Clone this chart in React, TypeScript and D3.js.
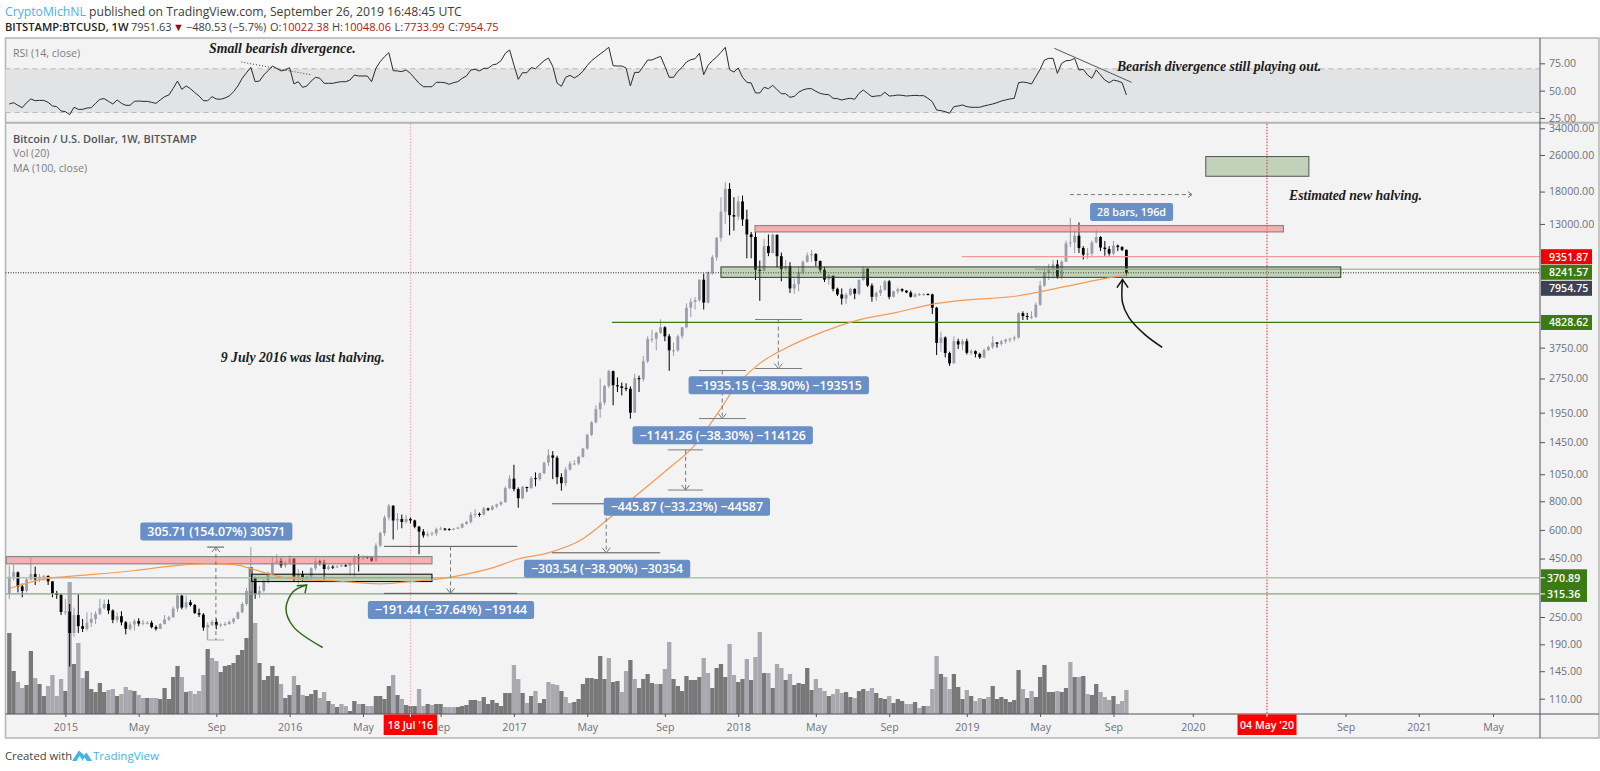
import React, { useRef, useEffect } from 'react';
import * as d3 from 'd3';

// weekly bars, first one is 6 Oct 2014
const firstOpen = 318;
const closes = [
  375,392,340,325,365,385,365,375,378,358,318,312,263,264,213,255,228,222,236,245,
  258,273,285,267,243,252,237,222,232,240,234,236,236,226,222,233,244,249,272,310,
  275,290,282,260,256,225,231,238,230,232,233,238,246,262,285,325,372,315,325,360,
  390,432,440,420,430,450,376,385,372,375,408,438,432,405,415,412,416,420,419,432,
  455,450,458,455,440,513,582,680,765,660,670,650,670,660,620,590,568,575,580,605,
  608,606,602,608,614,638,650,700,705,700,745,735,760,775,793,913,1005,905,825,925,
  915,1010,1000,1060,1180,1270,1240,1020,960,1100,1170,1170,1250,1360,1560,1770,2020,2160,2550,2960,
  2570,2540,2500,2480,1950,2760,2730,3270,4090,4100,4350,4600,4200,3650,3650,4200,4600,5600,5950,6050,
  7420,5900,8000,9300,11300,14700,18500,14200,14000,16300,13600,11700,11400,8200,8100,10400,9700,11650,9400,8250,
  8500,6800,7100,8000,8900,9480,9600,8960,8200,7430,7730,6770,6400,6140,6380,6770,6450,7400,8300,7000,
  6250,6500,6700,7300,6250,6600,6750,6650,6530,6250,6400,6420,6430,6400,5600,3930,4150,3550,3200,4000,
  3870,4000,3560,3620,3520,3400,3660,3780,3950,3900,3990,4060,4100,4150,5300,5150,5100,5110,5770,7000,
  7950,8250,8650,7650,8900,10700,10800,11550,10200,9550,9650,10800,11400,10250,10100,9650,10450,10300,10022.38,7954.75,
];
const highs = [
  419,425,395,350,370,455,415,385,382,380,358,325,316,300,285,275,314,245,262,262,
  265,300,298,298,270,262,265,240,238,245,247,243,240,241,230,235,255,253,278,317,
  312,310,297,285,272,260,237,242,246,235,238,241,248,265,290,335,505,375,342,365,
  395,460,470,452,440,465,450,405,398,378,412,450,445,445,422,420,420,424,425,435,
  465,470,465,462,460,525,590,695,780,770,710,700,695,680,665,625,605,590,590,615,
  620,612,610,612,620,642,658,720,740,715,755,750,770,782,800,930,1040,1155,920,935,
  925,1030,1070,1070,1190,1350,1325,1265,1060,1130,1200,1210,1265,1370,1580,1790,2100,2750,2580,3000,
  2980,2780,2640,2620,2540,2880,2830,3450,4200,4480,4400,4990,4650,4300,3950,4280,4620,5850,6150,6230,
  7450,7880,8050,9500,11400,17000,19840,19600,17000,17200,17300,15000,12000,12000,9000,11200,11700,11800,11700,9750,
  9050,8850,7500,8450,9000,9750,9990,9700,9000,8450,7850,7700,6850,6800,6500,6850,6800,7450,8500,8300,
  7150,6600,7000,7400,7400,6650,6850,6800,6680,6650,6500,6500,6480,6470,6450,5650,4400,4200,3600,4200,
  4100,4080,4100,3680,3650,3560,3720,3820,4210,3960,4050,4100,4150,4230,5350,5400,5320,5400,5900,7350,
  8350,8700,9050,9050,9000,11000,13800,12200,13200,10400,10200,11000,12300,11500,10950,10400,10950,10570,10400,10048.06,
];
const lows = [
  299,360,320,305,320,360,345,355,360,345,305,300,255,255,152,205,213,215,218,226,
  233,255,270,258,235,236,230,210,218,218,228,230,232,223,218,222,232,240,250,263,
  270,270,278,258,250,218,200,228,221,226,228,231,233,244,260,280,320,300,303,320,
  350,385,425,410,410,425,355,350,360,362,365,400,420,365,400,405,410,414,415,380,
  375,395,440,448,435,435,505,565,660,545,600,610,640,640,610,470,555,560,565,565,
  600,595,595,598,605,610,632,640,680,685,695,725,730,745,765,790,905,885,750,815,
  880,905,930,985,1050,1140,1000,950,890,930,1090,1150,1150,1240,1340,1540,1750,1850,2100,2500,
  2100,2400,2320,2420,1835,1950,2400,2670,3210,3950,3650,4300,4000,2970,3450,3600,4100,4550,5100,5500,
  5950,5500,5850,7800,9000,10900,13000,11600,12150,13500,12750,9200,9200,7400,6000,8100,9400,9650,8400,7300,
  8100,6500,6450,6600,7800,8800,8900,8500,8000,7250,7050,6600,6300,5780,5800,6300,6100,6350,7350,6900,
  5950,6000,6300,6650,6100,6200,6450,6550,6480,6200,6200,6300,6300,6330,5250,3480,3600,3400,3120,3200,
  3700,3650,3500,3480,3400,3350,3370,3620,3700,3750,3830,3900,3950,4000,4100,4950,4950,5000,5050,5700,
  6900,7400,7500,7500,7450,8850,10300,9700,9700,9100,9150,9400,10700,9900,9450,9450,9500,9900,9900,7733.99,
];
const volumes = [
  81,43,32,26,29,63,36,30,18,28,39,18,35,23,132,50,71,36,43,25,
  22,31,22,24,25,18,20,27,24,23,19,16,16,16,16,15,26,15,37,48,
  37,22,23,20,23,39,65,56,53,42,48,49,51,59,64,76,147,91,51,34,
  38,48,38,30,16,19,38,29,19,18,20,24,16,22,13,10,7,10,8,3,
  13,10,10,8,8,18,18,15,28,39,19,15,9,8,8,25,8,10,9,10,
  10,7,7,7,7,8,9,14,14,13,17,10,14,11,8,21,21,49,35,21,
  11,18,23,11,15,32,30,29,23,17,11,12,15,30,36,36,35,58,35,56,
  32,33,22,43,54,35,26,35,40,31,30,30,45,72,35,28,23,38,34,34,
  37,56,41,26,46,50,37,70,39,32,35,55,34,57,82,41,41,26,50,46,
  34,40,29,31,30,46,24,35,26,23,18,20,25,21,22,17,16,23,25,23,
  26,21,16,15,18,11,15,13,10,10,12,6,8,8,25,58,40,37,25,40,
  27,15,24,18,13,16,15,17,28,15,17,15,12,14,44,25,16,23,17,37,
  49,22,22,23,22,26,52,37,37,38,20,19,30,22,17,14,18,10,13,24,
];
// D = dark bar, L = light bar
const volumeTones = (
  'DDLLDDLDDL' + 'LLLDLDLLDD' + 'DDDLLDLLLD' + 'LLDLLDDDDD' + 'LDLLLLDLLD' + 'DDDDDDDLDD' +
  'DDDLDDLDLD' + 'DDLLDLDLLD' + 'DLDLLDDDDL' + 'DLDDDLLDLD' + 'DLLLDDDDDL' + 'DDDDDDDLLD' +
  'LDLDDLLLDL' + 'LDDDDDDDDL' + 'DDLLDLDDDD' + 'LDLLDDDDDD' + 'DLLDDDDLLD' + 'DLDLLDLDLL' +
  'DLDDDDDLLL' + 'DLLLDDLDDL' + 'LDDDLDDDLL' + 'DLDLLLDLLD' + 'DDLDLLDLDD' + 'DDDDDLDLDD' +
  'DDDLDDLDLD' + 'LDDLLLDLLL'
).split('');
const rsiValues = [
  37.8,39,36.6,34.4,39,42.4,40.8,41.1,41.1,39.3,36,35.4,31.4,30.8,28,34.8,32.9,32.9,34.1,34.4,
  38.4,42.1,42.7,40.2,37.8,41.5,38.4,36.6,36.6,40.2,40.5,40.2,40.2,39.3,38.4,41.5,44.5,46,52.1,58.8,
  51.2,54.3,51.8,48.2,45.1,40.8,40.8,44.5,42.4,42.1,43.3,45.1,49.1,54.3,61.3,66.4,71.3,58.2,58.8,64.3,
  68.3,72.5,70.4,68,68.9,71,56.1,58.2,53,54.3,58.8,62.2,61.3,56.7,56.7,56.7,57.6,58.2,58.2,59.7,
  64.3,63.4,63.4,63.4,58.2,70.4,76.5,81.1,84.7,68.3,68,67.4,68.9,65.8,61.3,56.7,53.6,53.6,53.6,57.6,
  57.6,57.3,55.8,57.3,58.2,61.3,63.4,68.9,69.5,68,70.4,70.4,73.4,74.4,77.4,84.1,87.2,73.4,60.3,66.4,
  66.4,71,70.1,73.8,77.4,79.8,72.2,57,53.9,62.2,64,61.6,64,67.7,73.1,77.4,80.5,83.5,86.5,89.6,
  72.8,72.5,72.5,70.7,54.3,66.7,66.7,72.2,78,78,79.8,81.4,72.2,62.2,62.2,67.7,71.3,76.2,78.3,79.2,
  84.1,64.6,73.1,77.4,80.8,85,89.6,69.2,67,70.7,62.2,57.6,57,47.9,47.9,53,51.8,54.9,50.9,47.2,
  47.2,43.9,44.8,48.5,50.6,51.8,51.8,49.4,47.5,46.6,46.3,43,42.7,41.5,42.4,43,42.1,47.5,50.6,47.5,
  44.5,45.1,45.4,48.5,45.1,45.4,46,45.7,45.1,45.4,45.7,45.4,45.4,43,39.9,32.3,31.7,30.8,29.3,35.4,
  36,36.9,35.4,34.8,34.8,34.8,36,36.9,37.8,39,40.5,41.5,42.4,43,57.3,57.9,57.3,56.1,62.8,69.5,
  78,79.5,79.5,65.8,75,77.4,77.7,79.5,68.9,69.5,64.3,61.3,68.9,64.3,59.7,57.3,59.7,58.8,57.3,46,
];
const maBars = [0,8.7,13.3,28.7,38,45.7,52,55.8,59.7,63.5,67.4,75,86,94.4,100.6,106,112,118,124.7,132.3,138.6,144.6,152.5,158.6,164.8,167.9,174,179.4,188,197,205.8,213.5,220.4,233.6,245,255.5,259];
const maValues = [333,368,375,398,418,427,423,408,388,373,365,360,349,359,369,385,410,448,475,539,663,825,1098,1387,2010,2460,3200,3680,4350,4960,5340,5780,6020,6300,6940,7600,7790];

const priceTicks = [34000,26000,18000,13000,3750,2750,1950,1450,1050,800,600,450,250,190,145,110];
const rsiTicks = [75,50,25];
const timeTickBars = [13,30,48,65,82,100,117,134,152,169,187,204,222,239,256,274.4,309.8,326.8,344];
const timeTickLabels = ['2015','May','Sep','2016','May','Sep','2017','May','Sep','2018','May','Sep','2019','May','Sep','2020','Sep','2021','May'];

const halvingBars = [93, 291.6];
const halvingLabels = ["18 Jul '16", "04 May '20"];
const halvingColors = ['#f4a3a3', '#e8222a'];

// left bar, right bar, top price, bottom price
const redBoxes = [[172.9,295.4,12788,12000],[-0.7,98,459,426.7]];
const greenBoxes = [[165,308.7,8439,7600],[56.2,98,384.6,357],[277.4,301.3,25600,20995]];
const greenBoxStrokes = ['#2f3a2c','#000000','#555555'];

// left bar, right bar, mid bar, top price, bottom price
const measures = [
  [86.9,117.8,102.3,508.6,317.16],
  [125.8,150.9,138.4,780.3,476.8],
  [152.7,160.8,156.8,1341.8,895.9],
  [159.9,170.8,165.3,2979.8,1838.5],
  [172.9,183.8,178.3,4974.7,3039.6],
];
const riseMeasure = [45.9,49.8,47.9,505,198.5];

const labelTexts = ['305.71 (154.07%) 30571','\u2212191.44 (\u221237.64%) \u221219144','\u2212303.54 (\u221238.90%) \u221230354','\u2212445.87 (\u221233.23%) \u221244587','\u22121141.26 (\u221238.30%) \u2212114126','\u22121935.15 (\u221238.90%) \u2212193515','28 bars, 196d'];
const labelBars = [48,102.4,138.6,157.1,165.4,178.4,260.2];
const labelPrices = [590.4,268.6,406.3,756.7,1553,2568,14676];

const priceNotes = ['9 July 2016 was last halving.','Estimated new halving.'];
const priceNoteBars = [49,296.7];
const priceNotePrices = [3387,17291];
const rsiNotes = ['Small bearish divergence.','Bearish divergence still playing out.'];
const rsiNoteBars = [46.3,256.8];
const rsiNoteValues = [88.1,71.9];

const blackArrowBars = [258.1,258.1,259.6,263.3,267.3];
const blackArrowPrices = [7425,5894,5067,4271,3759];
const blackHeadBars = [256.8,258.1,259.4];
const blackHeadPrices = [6853,7425,6853];
const greenArrowBars = [68.95,65.85,64.15,65.85,72.66];
const greenArrowPrices = [345,323,273,227,184];
const greenHeadBars = [66.64,68.95,68.56];
const greenHeadPrices = [342,345,318];

// second header line, piece by piece as the reference spaces it
const infoTexts = ['7951.63','\u25BC','\u2212480.53','(\u22125.7%)','O:','10022.38','H:','10048.06','L:','7733.99','C:','7954.75'];
const infoLefts = [131,173,186,229,270,282,332,344,394.6,404,448,458];
const infoColors = ['#3c3c3c','#8c0f0f','#3c3c3c','#3c3c3c','#3c3c3c','#b01515','#3c3c3c','#b01515','#3c3c3c','#b01515','#3c3c3c','#b01515'];

const uiFont = '"Open Sans", sans-serif';
const noteFont = '"Liberation Serif", serif';

const width = 1600;
const height = 771;
const frame = { left: 5.5, top: 38, right: 1599, bottom: 738, axis: 1540, split: 122.7, base: 714 };

const App = () => {
  const chartRef = useRef<SVGSVGElement | null>(null);

  useEffect(() => {
    if (!chartRef.current) return;
    const svg = d3.select(chartRef.current);
    svg.selectAll('*').remove();

    const x = d3.scaleLinear().domain([0, 259]).range([9.3, 1126.4]);
    const price = d3.scaleLog().domain([110, 34000]).range([698.7, 128.3]);
    const rsi = d3.scaleLinear().domain([25, 75]).range([118, 63.3]);
    const vol = d3.scaleLinear().domain([0, 150]).range([frame.base, frame.base - 150]);

    svg.append('rect').attr('width', width).attr('height', height).attr('fill', '#ffffff');
    svg.append('rect')
      .attr('x', frame.left).attr('y', frame.top)
      .attr('width', frame.right - frame.left).attr('height', frame.bottom - frame.top)
      .attr('fill', '#f3f3f3').attr('stroke', '#b4b4b4').attr('stroke-width', 1.5);

    // Header
    const head = svg.append('text').attr('x', 5).attr('y', 15.5).attr('font-family', uiFont).attr('font-size', 12.2).attr('fill', '#3c3c3c');
    head.append('tspan').attr('fill', '#46b3e6').text('CryptoMichNL');
    head.append('tspan').text(' published on TradingView.com, September 26, 2019 16:48:45 UTC');

    svg.append('text')
      .attr('x', 5).attr('y', 31)
      .attr('font-family', uiFont).attr('font-size', 11.2).attr('font-weight', 600).attr('fill', '#222')
      .text('BITSTAMP:BTCUSD, 1W');
    infoTexts.forEach((t, i) => {
      svg.append('text')
        .attr('x', infoLefts[i]).attr('y', 31)
        .attr('font-family', uiFont).attr('font-size', 11).attr('fill', infoColors[i])
        .text(t);
    });

    // RSI pane
    svg.append('rect')
      .attr('x', frame.left).attr('width', frame.axis - frame.left)
      .attr('y', rsi(70)).attr('height', rsi(30) - rsi(70))
      .attr('fill', '#e2e3e5');
    [70, 30].forEach((band) => {
      svg.append('line')
        .attr('x1', frame.left).attr('x2', frame.axis)
        .attr('y1', rsi(band)).attr('y2', rsi(band))
        .attr('stroke', '#b9b9b9').attr('stroke-dasharray', '5,4');
    });
    svg.append('path')
      .datum(rsiValues)
      .attr('d', d3.line<number>().x((_, i) => x(i)).y((d) => rsi(d)))
      .attr('fill', 'none').attr('stroke', '#2a2a2a').attr('stroke-width', 1);
    svg.append('line')
      .attr('x1', x(53.8)).attr('y1', rsi(76.2)).attr('x2', x(69.8)).attr('y2', rsi(64.6))
      .attr('stroke', '#333').attr('stroke-dasharray', '1,2');
    svg.append('line')
      .attr('x1', x(242.3)).attr('y1', rsi(88.7)).attr('x2', x(260.2)).attr('y2', rsi(57.6))
      .attr('stroke', '#555');

    // Pane split
    svg.append('line')
      .attr('x1', frame.left).attr('x2', frame.right)
      .attr('y1', frame.split).attr('y2', frame.split)
      .attr('stroke', '#b4b4b4').attr('stroke-width', 2);

    // Volume
    svg.append('g').selectAll('rect')
      .data(volumes)
      .enter()
      .append('rect')
      .attr('x', (_, i) => x(i) - 2.15)
      .attr('width', 4.3)
      .attr('y', (d) => vol(d))
      .attr('height', (d) => vol(0) - vol(d))
      .attr('fill', (_, i) => (volumeTones[i] === 'D' ? '#787878' : '#a8a8ae'));

    // Halving lines
    halvingBars.forEach((b, i) => {
      svg.append('line')
        .attr('x1', x(b)).attr('x2', x(b))
        .attr('y1', frame.split + 1).attr('y2', frame.base)
        .attr('stroke', halvingColors[i]).attr('stroke-dasharray', '1.5,1.5');
    });

    // Candles
    const opens = [firstOpen, ...closes.slice(0, -1)];
    const candles = svg.append('g');
    const candleColor = (i: number) => (closes[i] < opens[i] ? '#000000' : '#9b9da8');
    candles.selectAll('line')
      .data(closes)
      .enter()
      .append('line')
      .attr('x1', (_, i) => x(i)).attr('x2', (_, i) => x(i))
      .attr('y1', (_, i) => price(highs[i])).attr('y2', (_, i) => price(lows[i]))
      .attr('stroke', (_, i) => candleColor(i));
    candles.selectAll('rect')
      .data(closes)
      .enter()
      .append('rect')
      .attr('x', (_, i) => x(i) - 1.4)
      .attr('width', 2.8)
      .attr('y', (d, i) => price(Math.max(d, opens[i])))
      .attr('height', (d, i) => Math.max(1, Math.abs(price(d) - price(opens[i]))))
      .attr('fill', (_, i) => candleColor(i));

    // Levels
    const level = (value: number, fromBar: number | null, color: string, w: number, dash?: string) => {
      svg.append('line')
        .attr('x1', fromBar === null ? frame.left : x(fromBar)).attr('x2', frame.axis)
        .attr('y1', price(value)).attr('y2', price(value))
        .attr('stroke', color).attr('stroke-width', w)
        .attr('stroke-dasharray', dash ?? null);
    };
    level(7954.75, null, '#222', 1, '1,1.5');
    level(9351.87, 220.8, '#f39a9a', 1.2);
    level(8241.57, 237.8, '#b5b9b0', 1.5);
    level(4828.62, 139.7, '#3c7a10', 1.2);
    level(370.89, null, '#b3c2aa', 1.5);
    level(315.36, null, '#8da283', 1.2);

    // Boxes
    redBoxes.forEach((b) => {
      svg.append('rect')
        .attr('x', x(b[0])).attr('width', x(b[1]) - x(b[0]))
        .attr('y', price(b[2])).attr('height', price(b[3]) - price(b[2]))
        .attr('fill', 'rgba(245,120,120,0.55)').attr('stroke', '#8a8a8a').attr('stroke-width', 1.2);
    });
    greenBoxes.forEach((b, i) => {
      svg.append('rect')
        .attr('x', x(b[0])).attr('width', x(b[1]) - x(b[0]))
        .attr('y', price(b[2])).attr('height', price(b[3]) - price(b[2]))
        .attr('fill', 'rgba(90,140,70,0.33)').attr('stroke', greenBoxStrokes[i]).attr('stroke-width', 1);
    });

    // MA
    svg.append('path')
      .datum(maBars)
      .attr('d', d3.line<number>().x((d) => x(d)).y((_, i) => price(maValues[i])).curve(d3.curveMonotoneX))
      .attr('fill', 'none').attr('stroke', '#f59a55').attr('stroke-width', 1.2);

    // Measures
    const arrowHead = (cx: number, cy: number, dir: number, color: string) => {
      svg.append('path')
        .attr('d', `M${cx - 4},${cy - dir * 5}L${cx},${cy}L${cx + 4},${cy - dir * 5}`)
        .attr('fill', 'none').attr('stroke', color);
    };
    measures.forEach((m, i) => {
      [m[3], m[4]].forEach((p) => {
        svg.append('line')
          .attr('x1', x(m[0])).attr('x2', x(m[1]))
          .attr('y1', price(p)).attr('y2', price(p))
          .attr('stroke', i === 0 || i === 1 ? '#555' : '#7d7d7d');
      });
      svg.append('line')
        .attr('x1', x(m[2])).attr('x2', x(m[2]))
        .attr('y1', price(m[3])).attr('y2', price(m[4]))
        .attr('stroke', '#777').attr('stroke-dasharray', '4,3');
      arrowHead(x(m[2]), price(m[4]), 1, '#777');
    });
    const rm = riseMeasure;
    svg.append('line').attr('x1', x(rm[0])).attr('x2', x(rm[1])).attr('y1', price(rm[3])).attr('y2', price(rm[3])).attr('stroke', '#555');
    svg.append('line').attr('x1', x(rm[0])).attr('x2', x(rm[1])).attr('y1', price(rm[4])).attr('y2', price(rm[4])).attr('stroke', '#aaa');
    svg.append('line').attr('x1', x(rm[0])).attr('x2', x(rm[0])).attr('y1', price(rm[4]) - 13).attr('y2', price(rm[4])).attr('stroke', '#aaa');
    svg.append('line').attr('x1', x(rm[2])).attr('x2', x(rm[2])).attr('y1', price(rm[3])).attr('y2', price(rm[4])).attr('stroke', '#777').attr('stroke-dasharray', '4,3');
    arrowHead(x(rm[2]), price(rm[3]), -1, '#777');

    svg.append('line')
      .attr('x1', x(245.9)).attr('x2', x(274.2))
      .attr('y1', price(17465)).attr('y2', price(17465))
      .attr('stroke', '#777').attr('stroke-dasharray', '4,3');
    svg.append('path')
      .attr('d', `M${x(274.2) - 4},${price(17465) - 3}L${x(274.2)},${price(17465)}L${x(274.2) - 4},${price(17465) + 3}`)
      .attr('fill', 'none').attr('stroke', '#777');

    // Hand drawn arrows
    const drawCurve = (bars: number[], prices: number[], color: string) => {
      svg.append('path')
        .attr('d', d3.line<number>().x((d) => x(d)).y((_, i) => price(prices[i])).curve(d3.curveCatmullRom)(bars))
        .attr('fill', 'none').attr('stroke', color).attr('stroke-width', 1.5);
    };
    drawCurve(blackArrowBars, blackArrowPrices, '#111');
    svg.append('path')
      .attr('d', d3.line<number>().x((d) => x(d)).y((_, i) => price(blackHeadPrices[i]))(blackHeadBars))
      .attr('fill', 'none').attr('stroke', '#111').attr('stroke-width', 1.5);
    drawCurve(greenArrowBars, greenArrowPrices, '#2e6a14');
    svg.append('path')
      .attr('d', d3.line<number>().x((d) => x(d)).y((_, i) => price(greenHeadPrices[i]))(greenHeadBars))
      .attr('fill', 'none').attr('stroke', '#2e6a14').attr('stroke-width', 1.5);

    // Axis lines
    svg.append('line').attr('x1', frame.axis).attr('x2', frame.axis).attr('y1', frame.top).attr('y2', frame.bottom).attr('stroke', '#50535e');
    svg.append('line').attr('x1', frame.left).attr('x2', frame.right).attr('y1', frame.base).attr('y2', frame.base).attr('stroke', '#50535e').attr('stroke-width', 1.2);

    // Price axis and RSI axis
    const styleAxis = (g: d3.Selection<SVGGElement, unknown, null, undefined>) => {
      g.select('.domain').remove();
      g.selectAll('line').attr('stroke', '#50535e');
      g.selectAll('text').attr('fill', '#6d7079').attr('font-family', uiFont).attr('font-size', 10.6);
    };
    svg.append('g')
      .attr('transform', `translate(${frame.axis},0)`)
      .call(d3.axisRight(price).tickValues(priceTicks).tickFormat((d) => (+d).toFixed(2)).tickSize(5).tickPadding(4) as any)
      .call(styleAxis as any);
    svg.append('g')
      .attr('transform', `translate(${frame.axis},0)`)
      .call(d3.axisRight(rsi).tickValues(rsiTicks).tickFormat((d) => (+d).toFixed(2)).tickSize(5).tickPadding(4) as any)
      .call(styleAxis as any);

    // Time axis
    svg.append('g')
      .attr('transform', `translate(0,${frame.base})`)
      .call(d3.axisBottom(x).tickValues(timeTickBars).tickFormat((_, i) => timeTickLabels[i]).tickSize(3).tickPadding(6) as any)
      .call(styleAxis as any);

    // Price tags
    const tag = (value: number, label: string, fill: string, offset = 0) => {
      const cy = price(value) + offset;
      svg.append('rect').attr('x', frame.axis + 1).attr('y', cy - 7.5).attr('width', 51).attr('height', 15).attr('fill', fill);
      svg.append('text')
        .attr('x', frame.axis + 9).attr('y', cy)
        .attr('dominant-baseline', 'central')
        .attr('font-family', uiFont).attr('font-size', 10.6).attr('font-weight', 600).attr('fill', '#ffffff')
        .text(label);
    };
    tag(9351.87, '9351.87', '#f00000');
    tag(8241.57, '8241.57', '#3c7a14', 3);
    tag(7954.75, '7954.75', '#3d4152', 15.5);
    tag(4828.62, '4828.62', '#3c7a14');
    svg.append('rect').attr('x', frame.axis + 1).attr('y', price(370.89) - 8.5).attr('width', 46).attr('height', price(315.36) - price(370.89) + 16.5).attr('fill', '#3c7a14');
    [370.89, 315.36].forEach((v) => {
      svg.append('line').attr('x1', frame.axis).attr('x2', frame.axis + 5).attr('y1', price(v)).attr('y2', price(v)).attr('stroke', '#fff');
      svg.append('text')
        .attr('x', frame.axis + 7).attr('y', price(v))
        .attr('dominant-baseline', 'central')
        .attr('font-family', uiFont).attr('font-size', 10.6).attr('font-weight', 600).attr('fill', '#ffffff')
        .text(v.toFixed(2));
    });

    // Halving date tags
    halvingBars.forEach((b, i) => {
      const w = i === 0 ? 53.5 : 59;
      svg.append('rect').attr('x', x(b) - w / 2).attr('y', frame.base + 0.5).attr('width', w).attr('height', 20.5).attr('fill', '#ff0000');
      svg.append('line').attr('x1', x(b)).attr('x2', x(b)).attr('y1', frame.base).attr('y2', frame.base + 3).attr('stroke', '#fff');
      svg.append('text')
        .attr('x', x(b)).attr('y', frame.base + 11)
        .attr('text-anchor', 'middle').attr('dominant-baseline', 'central')
        .attr('font-family', uiFont).attr('font-size', 10.6).attr('font-weight', 600).attr('fill', '#ffffff')
        .text(halvingLabels[i]);
    });

    // Measure labels, box width follows the text
    labelTexts.forEach((t, i) => {
      const cx = x(labelBars[i]);
      const cy = price(labelPrices[i]);
      const g = svg.append('g');
      const box = g.append('rect').attr('y', cy - 9).attr('height', 18).attr('rx', 2.5).attr('fill', '#6a8fc6');
      const txt = g.append('text')
        .attr('x', cx).attr('y', cy)
        .attr('text-anchor', 'middle').attr('dominant-baseline', 'central')
        .attr('font-family', uiFont).attr('font-size', t.startsWith('28') ? 10.8 : 12.4).attr('font-weight', 600).attr('fill', '#ffffff')
        .text(t);
      const len = (txt.node() as SVGTextElement).getComputedTextLength();
      box.attr('x', cx - len / 2 - 7).attr('width', len + 14);
    });

    // Text notes
    const note = (label: string, nx: number, ny: number) => {
      svg.append('text')
        .attr('x', nx).attr('y', ny)
        .attr('dominant-baseline', 'central')
        .attr('font-family', noteFont).attr('font-size', 13.8).attr('font-style', 'italic').attr('font-weight', 700)
        .attr('fill', '#1c1c1c')
        .text(label);
    };
    priceNotes.forEach((t, i) => note(t, x(priceNoteBars[i]), price(priceNotePrices[i])));
    rsiNotes.forEach((t, i) => note(t, x(rsiNoteBars[i]), rsi(rsiNoteValues[i])));

    // Pane legends
    const legend = (label: string, ly: number, bold: boolean) => {
      svg.append('text')
        .attr('x', 13).attr('y', ly)
        .attr('dominant-baseline', 'central')
        .attr('font-family', uiFont).attr('font-size', bold ? 11 : 10.6)
        .attr('font-weight', bold ? 600 : 400).attr('fill', bold ? '#50535e' : '#7a7d86')
        .text(label);
    };
    legend('RSI (14, close)', 52.5, false);
    legend('Bitcoin / U.S. Dollar, 1W, BITSTAMP', 138, true);
    legend('Vol (20)', 152.7, false);
    legend('MA (100, close)', 167.7, false);

    // Footer
    svg.append('text').attr('x', 5).attr('y', 760).attr('font-family', uiFont).attr('font-size', 11.3).attr('fill', '#444').text('Created with');
    svg.append('path')
      .attr('d', 'M72,761L79,750.5L84,755L86.5,752.5L92,761L87,761L84.5,757.5L82,761Z M76.5,761L79.5,756L83,761Z')
      .attr('fill', '#46b3e6').attr('fill-rule', 'evenodd');
    svg.append('text').attr('x', 93).attr('y', 760).attr('font-family', uiFont).attr('font-size', 11.5).attr('fill', '#46b3e6').text('TradingView');
  }, []);

  return (
    <svg
      ref={chartRef}
      width={width}
      height={height}
      style={{ position: 'absolute', left: 0, top: 0 }}
    />
  );
};

export default App;
